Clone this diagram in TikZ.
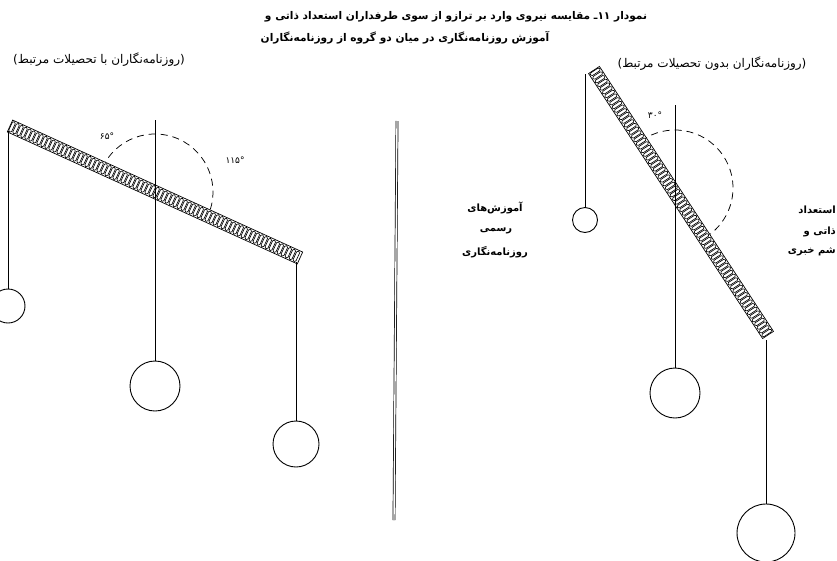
\documentclass[tikz,border=0pt]{standalone}
\usepackage{fontspec}
\TeXXeTstate=1
\newfontfamily\fa[Script=Arabic]{DejaVu Sans}
\newcommand\hbeam[3]{%
 \begin{scope}[shift={#1},rotate=#2]
  \fill[white] (0,-6.5) rectangle (#3,6.5);
  \pgfmathtruncatemacro\ncellx{#3/4.4-1}
  \foreach \i in {0,...,\ncellx} \draw[line width=0.65pt, rounded corners=1.4pt] ({\i*4.4+0.6},-5.6) rectangle ++(3.2,11.2);
  \draw[line width=0.7pt] (0,-6.5) rectangle (#3,6.5);
 \end{scope}}
\begin{document}
\begin{tikzpicture}[x=1pt,y=1pt,
  str/.style={line width=0.8pt},
  bob/.style={circle,draw,line width=0.9pt,inner sep=0pt},
  arcd/.style={dash pattern=on 7pt off 5pt, line width=0.75pt},
  ttl/.style={font=\fa\bfseries\fontsize{10.6}{12}\selectfont, inner sep=0pt},
  sub/.style={font=\fa\fontsize{12}{14}\selectfont, inner sep=0pt},
  mid/.style={font=\fa\bfseries\fontsize{10}{12}\selectfont, inner sep=0pt},
  lbl/.style={font=\fa\fontsize{9}{10}\selectfont, inner sep=0pt}]
\useasboundingbox (0,0) rectangle (837,-560);
% titles
\node[ttl] (t1) at (456,-17) {\beginR نمودار ۱۱{}ـ مقایسه نیروی وارد بر ترازو از سوی طرفداران استعداد ذاتی و\endR};
\node[ttl] (t2) at (405,-38) {\beginR آموزش روزنامه‌نگاری در میان دو گروه از روزنامه‌نگاران\endR};
\node[sub] (sl) at (99,-60) {)\beginR روزنامه‌نگاران با تحصیلات مرتبط\endR(};
\node[sub] (sr) at (712,-64) {)\beginR روزنامه‌نگاران بدون تحصیلات مرتبط\endR(};
% middle text
\node[mid] (m1) at (495,-208) {\beginR آموزش‌های\endR};
\node[mid] (m2) at (496,-231) {\beginR رسمی\endR};
\node[mid] (m3) at (495,-252) {\beginR روزنامه‌نگاری\endR};
% right text
\node[mid,anchor=east] (r1) at (836,-210) {\beginR استعداد\endR};
\node[mid,anchor=east] (r2) at (836,-232) {\beginR ذاتی و\endR};
\node[mid,anchor=east] (r3) at (836,-252) {\beginR شم خبری\endR};
% divider
\coordinate (d1) at (397,-121);
\coordinate (d2) at (394,-520);
\draw[double, double distance=1.4pt, line width=0.7pt] (d1) -- (d2);
% ---------- left balance
\coordinate (LC) at (155,-192);
\draw[arcd] ([shift={(155.5:58)}]LC) arc[start angle=155.5,end angle=-24.5,radius=58];
\hbeam{(10,-126)}{-24.47}{318.6}
\coordinate (L1t) at (8,-131);
\coordinate (L2t) at (155,-120);
\coordinate (L3t) at (296,-262);
\node[bob, minimum size=34pt] (L1) at (8,-306) {};
\node[bob, minimum size=50pt] (L2) at (155,-386) {};
\node[bob, minimum size=46pt] (L3) at (296,-444) {};
\draw[str] (L1t) -- (L1.north);
\draw[str] (L2t) -- (L2.north);
\draw[str] (L3t) -- (L3.north);
\node[lbl] (a1) at (107,-136) {۶۵°};
\node[lbl] (a2) at (235,-160) {۱۱۵°};
% ---------- right balance
\coordinate (RC) at (675,-188);
\draw[arcd] ([shift={(126:58)}]RC) arc[start angle=126,end angle=-59.5,radius=58];
\hbeam{(594,-70)}{-56.7}{317}
\coordinate (R1t) at (585,-74);
\coordinate (R2t) at (675,-105);
\coordinate (R3t) at (766,-340);
\node[bob, minimum size=25pt] (R1) at (585,-220) {};
\node[bob, minimum size=50pt] (R2) at (675,-393) {};
\node[bob, minimum size=58pt] (R3) at (766,-533) {};
\draw[str] (R1t) -- (R1.north);
\draw[str] (R2t) -- (R2.north);
\draw[str] (R3t) -- (R3.north);
\node[lbl] (a3) at (655,-115) {۳۰°};
\end{tikzpicture}
\end{document}
